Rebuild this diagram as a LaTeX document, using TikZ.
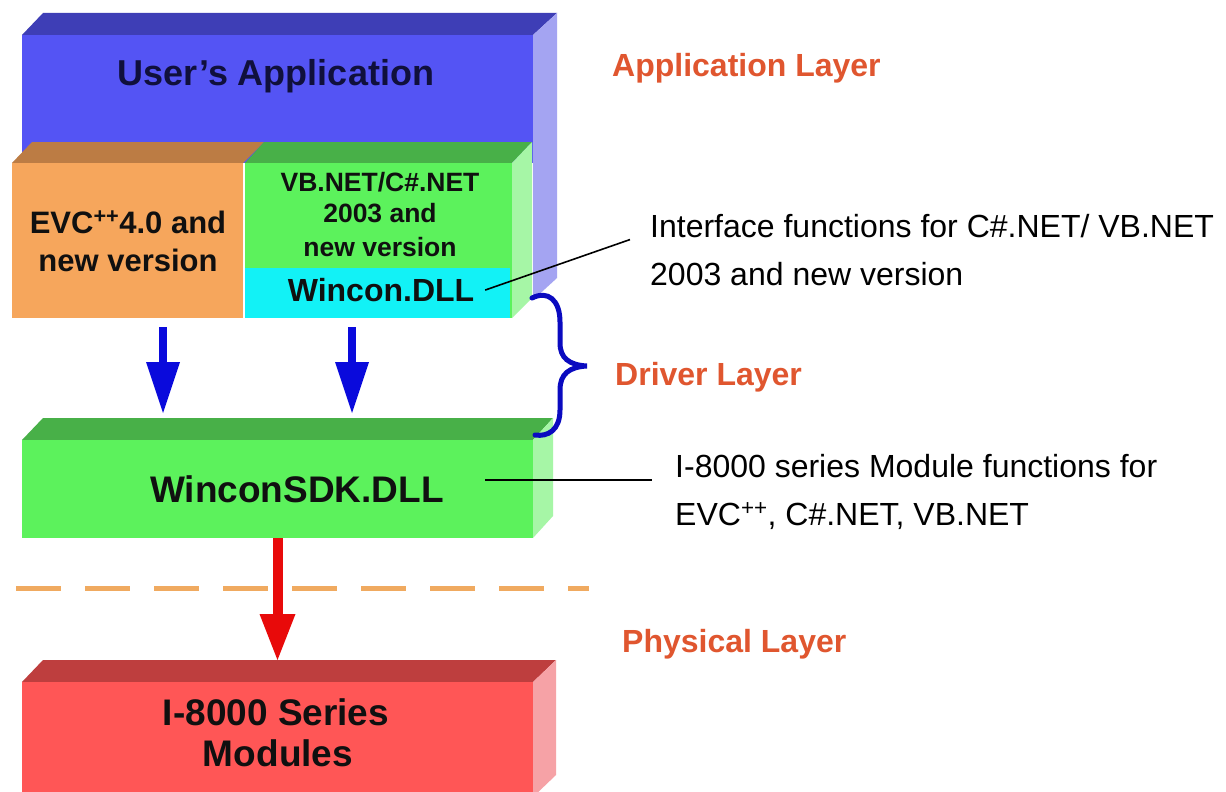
\documentclass[tikz,border=0pt]{standalone}
\usepackage{fontspec}
\setmainfont{Liberation Sans}
\usetikzlibrary{arrows.meta,calc}
\definecolor{bluef}{HTML}{5454F4}
\definecolor{bluetop}{HTML}{3E3EB6}
\definecolor{blueside}{HTML}{A4A4F2}
\definecolor{orangef}{HTML}{F6A65C}
\definecolor{orangetop}{HTML}{BC7C44}
\definecolor{greenf}{HTML}{5CF25C}
\definecolor{greentop}{HTML}{48B048}
\definecolor{greenside}{HTML}{A6F6A6}
\definecolor{cyanf}{HTML}{12F2F6}
\definecolor{redf}{HTML}{FF5656}
\definecolor{redtop}{HTML}{BE3E3E}
\definecolor{redside}{HTML}{F6A2A6}
\definecolor{arrowblue}{HTML}{0A0ADC}
\definecolor{arrowred}{HTML}{E80A0A}
\definecolor{bracec}{HTML}{0A0AC0}
\definecolor{dashc}{HTML}{F0AA60}
\definecolor{layerc}{HTML}{E0562F}
\definecolor{navytxt}{HTML}{10103C}
\definecolor{darktxt}{HTML}{101010}
\begin{document}
\begin{tikzpicture}[x=1pt,y=-1pt,
  face/.style={draw=none,inner sep=0pt,outer sep=0pt,anchor=north west},
  boxtxt/.style={inner sep=0pt,outer sep=0pt,anchor=base,text=darktxt},
  layer/.style={inner sep=0pt,anchor=base west,font=\bfseries\fontsize{32}{38}\selectfont,text=layerc},
  note/.style={inner sep=0pt,anchor=base west,font=\fontsize{32}{38}\selectfont,text=black},
  leader/.style={draw=black,line width=1.6pt},
  barrow/.style={draw=arrowblue,line width=8pt,-{Triangle[length=51pt,width=34pt,line width=0pt]}},
  rarrow/.style={draw=arrowred,line width=10pt,-{Triangle[length=46pt,width=36pt,line width=0pt]}},
  dashline/.style={draw=dashc,line width=5pt,dash pattern=on 45pt off 24pt},
  bracestyle/.style={draw=bracec,line width=5pt,line cap=round}
]
\fill[white] (0,0) rectangle (1226,792);
\useasboundingbox (0,0) rectangle (1226,792);

% Application box
\fill[bluetop] (22,35) -- (43,13) -- (557,13) -- (533,35) -- cycle;
\fill[blueside] (533,35) -- (557,13) -- (557,278) -- (533,300) -- cycle;
\node[face,fill=bluef,minimum width=511pt,minimum height=128pt] (app) at (22,35) {};
\node[boxtxt,text=navytxt,font=\bfseries\fontsize{36}{40}\selectfont] (apptxt) at (276,85) {User’s Application};

% EVC box
\fill[orangetop] (12,163) -- (32,142) -- (264,142) -- (243,163) -- cycle;
\node[face,fill=orangef,minimum width=231pt,minimum height=155pt] (evc) at (12,163) {};
\node[boxtxt,font=\bfseries\fontsize{31}{36}\selectfont] (evct1) at (128,233) {EVC\textsuperscript{++}4.0 and};
\node[boxtxt,font=\bfseries\fontsize{31}{36}\selectfont] (evct2) at (128,271) {new version};

% VB.NET box
\fill[greentop] (245,163) -- (264,142) -- (532,142) -- (512,163) -- cycle;
\fill[greenside] (512,163) -- (532,142) -- (532,298) -- (512,318) -- cycle;
\node[face,fill=greenf,minimum width=267pt,minimum height=155pt] (vb) at (245,163) {};
\node[boxtxt,font=\bfseries\fontsize{26.5}{30}\selectfont] (vbt1) at (380,191.5) {VB.NET/C\#.NET};
\node[boxtxt,font=\bfseries\fontsize{26.5}{30}\selectfont] (vbt2) at (380,222.5) {2003 and};
\node[boxtxt,font=\bfseries\fontsize{26.5}{30}\selectfont] (vbt3) at (380,256.5) {new version};
\node[face,fill=cyanf,minimum width=265pt,minimum height=50pt] (wdll) at (245,268) {};
\node[boxtxt,font=\bfseries\fontsize{32}{36}\selectfont] (wtxt) at (381,301.5) {Wincon.DLL};

% WinconSDK box
\fill[greentop] (22,440) -- (43,418) -- (553,418) -- (533,440) -- cycle;
\fill[greenside] (533,440) -- (553,418) -- (553,516) -- (533,538) -- cycle;
\node[face,fill=greenf,minimum width=511pt,minimum height=98pt] (sdk) at (22,440) {};
\node[boxtxt,font=\bfseries\fontsize{37}{40}\selectfont] (sdktxt) at (297,502) {WinconSDK.DLL};

% Modules box
\fill[redtop] (22,682) -- (43,660) -- (556,660) -- (533,682) -- cycle;
\fill[redside] (533,682) -- (556,660) -- (556,775) -- (533,797) -- cycle;
\node[face,fill=redf,minimum width=511pt,minimum height=120pt] (mod) at (22,682) {};
\node[boxtxt,font=\bfseries\fontsize{37}{40}\selectfont] (modt1) at (276,725) {I-8000 Series};
\node[boxtxt,font=\bfseries\fontsize{37}{40}\selectfont] (modt2) at (278,766) {Modules};

% dashed separator
\draw[dashline] (16,588) -- (589,588);

% arrows
\coordinate (a1) at ([xshift=35.5pt]evc.south);
\coordinate (a2) at ([xshift=-26.5pt]vb.south);
\draw[barrow,shorten <=9pt,shorten >=27pt] (a1) -- (a1 |- sdk.north);
\draw[barrow,shorten <=9pt,shorten >=27pt] (a2) -- (a2 |- sdk.north);
\draw[rarrow,shorten >=22pt] (sdk.south) -- (mod.north);

% brace
\draw[bracestyle] (532,298) .. controls (548,290) and (560,300) .. (560,322) -- (560,343)
  .. controls (560,358) and (569,365) .. (587,366)
  .. controls (569,367) and (560,374) .. (560,390) -- (560,410)
  .. controls (560,430) and (548,437) .. (535,435);

% layer labels
\node[layer] (lapp) at (612,77) {Application Layer};
\node[layer] (ldrv) at (615,385.5) {Driver Layer};
\node[layer] (lphy) at (622,652.5) {Physical Layer};

% annotations
\node[note] (ann1a) at (650,237) {Interface functions for C\#.NET/ VB.NET};
\node[note] (ann1b) at (650,285) {2003 and new version};
\node[note] (ann2a) at (675,477) {I-8000 series Module functions for};
\node[note] (ann2b) at (675,525) {EVC\textsuperscript{++}, C\#.NET, VB.NET};

\draw[leader] ([xshift=11pt]wtxt.east) -- ([shift={(-20pt,-14pt)}]ann1a.west);
\draw[leader] ([shift={(41.5pt,9pt)}]sdktxt.east) coordinate (q) -- (q -| ann2a.west) [shorten >=23pt];
\end{tikzpicture}
\end{document}
